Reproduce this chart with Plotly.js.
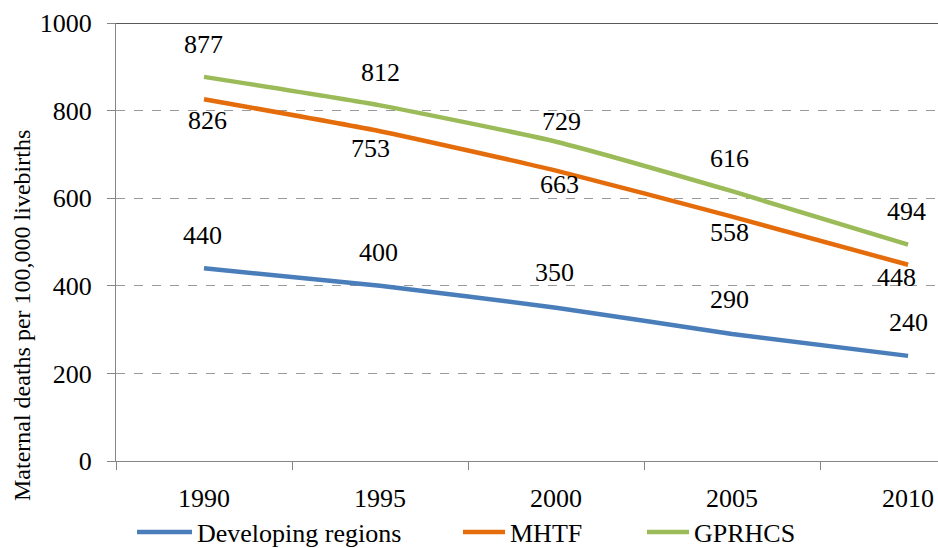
<!DOCTYPE html>
<html>
<head>
<meta charset="utf-8">
<script src="https://cdn.plot.ly/plotly-3.0.1.min.js"></script>
<style>
  html, body { margin: 0; padding: 0; background: #fff; }
  #chart { width: 938px; height: 548px; }
</style>
</head>
<body>
<div id="chart"></div>
<script>
// Maternal mortality estimates by source
const years = ['1990', '1995', '2000', '2005', '2010'];
const developingRegions = [440, 400, 350, 290, 240];
const mhtf = [826, 753, 663, 558, 448];
const gprhcs = [877, 812, 729, 616, 494];
const seriesNames = ['Developing regions', 'MHTF', 'GPRHCS'];
const yTicks = [0, 200, 400, 600, 800, 1000];
const yTitle = 'Maternal deaths per 100,000 livebirths';

// value-label placement (pixel offsets from each point)
const labelShift = [
  { dx: [-2, -2, -2, -3, 0],    dy: [33, 33, 35, 34, 33] },
  { dx: [3, -10, 3, -3, -12],   dy: [-21, -17, -14, -16, -13] },
  { dx: [-1, 0, 5, -3, -2],     dy: [32, 33, 20, 33, 33] }
];

const colors = ['#4A7EBB', '#E46C0A', '#9BBB59'];
const serif = 'Liberation Serif';
const allSeries = [developingRegions, mhtf, gprhcs];

const traces = allSeries.map((vals, i) => ({
  x: years,
  y: vals,
  name: seriesNames[i],
  type: 'scatter',
  mode: 'lines',
  line: { color: colors[i], width: 4.5, shape: 'spline', smoothing: 0.5 },
  legend: i === 0 ? 'legend' : 'legend' + (i + 1),
  hoverinfo: 'x+y'
}));

// value labels: category axes take the category's serial index
const annotations = [];
allSeries.forEach((vals, i) => {
  vals.forEach((v, j) => {
    annotations.push({
      x: j, y: v, xref: 'x', yref: 'y',
      text: String(v), showarrow: false,
      xshift: labelShift[i].dx[j], yshift: labelShift[i].dy[j],
      font: { family: serif, size: 26, color: '#000' }
    });
  });
});

// rotated axis title, placed left of the plot area
annotations.push({
  text: yTitle, textangle: -90, showarrow: false,
  xref: 'paper', yref: 'paper',
  x: -94 / 822, y: 145 / 438, xanchor: 'center', yanchor: 'middle',
  font: { family: serif, size: 24, color: '#000' }
});

const legendBase = {
  orientation: 'h', xref: 'container', yref: 'container',
  yanchor: 'middle', xanchor: 'left', y: 1 - 532 / 548,
  font: { family: serif, size: 26, color: '#000' },
  bgcolor: 'rgba(0,0,0,0)', tracegroupgap: 0
};

const layout = {
  width: 938, height: 548,
  margin: { l: 116, r: 0, t: 23, b: 87 },
  paper_bgcolor: '#fff', plot_bgcolor: '#fff',
  font: { family: serif },
  showlegend: true,
  legend:  Object.assign({}, legendBase, { x: 132 / 938, itemwidth: 55 }),
  legend2: Object.assign({}, legendBase, { x: 458 / 938, itemwidth: 42 }),
  legend3: Object.assign({}, legendBase, { x: 642 / 938, itemwidth: 42 }),
  xaxis: {
    type: 'category', range: [-0.5, 4.17],
    tickson: 'boundaries', ticks: 'outside', ticklen: 8, tickcolor: '#868686',
    showline: true, linecolor: '#868686', linewidth: 1,
    showgrid: false, zeroline: false,
    ticklabelstandoff: 14,
    tickfont: { family: serif, size: 26, color: '#000' }
  },
  yaxis: {
    range: [0, 1000], tickvals: yTicks, ticktext: yTicks.map(String),
    ticks: 'outside', ticklen: 8, tickcolor: '#868686',
    showline: true, linecolor: '#868686', linewidth: 1,
    showgrid: true, gridcolor: '#9a9a9a', griddash: 'dash', gridwidth: 1,
    zeroline: false,
    ticklabelstandoff: 10,
    tickfont: { family: serif, size: 26, color: '#000' }
  },
  shapes: [{
    type: 'line', xref: 'paper', yref: 'y', x0: 0, x1: 1, y0: 1000, y1: 1000,
    line: { color: '#222', width: 1.5 }
  }],
  annotations: annotations
};

Plotly.newPlot('chart', traces, layout, { displayModeBar: false, staticPlot: true });
</script>
</body>
</html>
